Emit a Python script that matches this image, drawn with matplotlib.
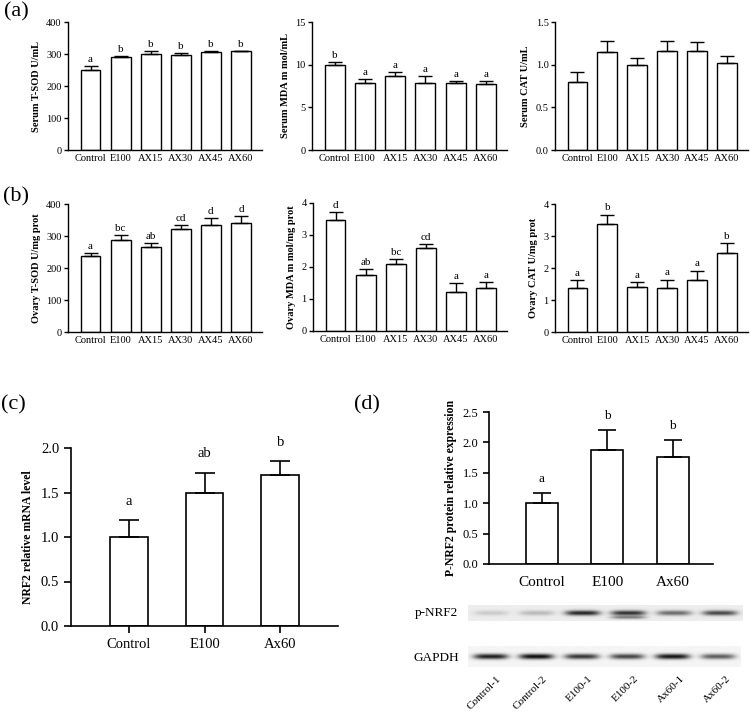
import numpy as np
import matplotlib
matplotlib.use("Agg")
import matplotlib.pyplot as plt

plt.rcParams['font.family'] = ['Liberation Serif', 'DejaVu Serif']

# groups
groups6 = ["Control", "E100", "AX15", "AX30", "AX45", "AX60"]
groups3 = ["Control", "E100", "Ax60"]

# (a) serum
serum_sod = [250, 292, 299, 298, 305, 308]
serum_sod_err = [11, 3, 11, 4, 4, 2]
serum_sod_let = ["a", "b", "b", "b", "b", "b"]

serum_mda = [10.0, 7.9, 8.7, 7.85, 7.8, 7.75]
serum_mda_err = [0.3, 0.4, 0.4, 0.8, 0.3, 0.35]
serum_mda_let = ["b", "a", "a", "a", "a", "a"]

serum_cat = [0.80, 1.15, 1.00, 1.16, 1.16, 1.02]
serum_cat_err = [0.11, 0.13, 0.08, 0.12, 0.10, 0.08]

# (b) ovary
ovary_sod = [236, 287, 267, 321, 335, 342]
ovary_sod_err = [12, 16, 10, 13, 20, 20]
ovary_sod_let = ["a", "bc", "ab", "cd", "d", "d"]

ovary_mda = [3.46, 1.76, 2.08, 2.60, 1.22, 1.33]
ovary_mda_err = [0.27, 0.18, 0.18, 0.12, 0.28, 0.20]
ovary_mda_let = ["d", "ab", "bc", "cd", "a", "a"]

ovary_cat = [1.36, 3.39, 1.40, 1.36, 1.64, 2.46]
ovary_cat_err = [0.25, 0.28, 0.17, 0.28, 0.28, 0.31]
ovary_cat_let = ["a", "b", "a", "a", "a", "b"]

# (c) mRNA
nrf2_mrna = [1.00, 1.49, 1.70]
nrf2_mrna_err = [0.19, 0.23, 0.15]
nrf2_mrna_let = ["a", "ab", "b"]

# (d) protein
pnrf2 = [1.00, 1.87, 1.76]
pnrf2_err = [0.17, 0.33, 0.28]
pnrf2_let = ["a", "b", "b"]

# blot band darkness per lane
lanes = ["Control-1", "Control-2", "E100-1", "E100-2", "Ax60-1", "Ax60-2"]
pnrf2_band = [0.15, 0.22, 0.85, 0.80, 0.55, 0.70]
pnrf2_band_low = [0.0, 0.0, 0.0, 0.45, 0.0, 0.0]
gapdh_band = [0.88, 0.95, 0.78, 0.72, 0.92, 0.62]

W, H = 750, 717
fig = plt.figure(figsize=(W / 100, H / 100), dpi=100)


def box(l, t, r, b):
    return fig.add_axes([l / W, 1 - b / H, (r - l) / W, (b - t) / H])


def bars(ax, vals, errs, width, cap, lw):
    x = np.arange(len(vals))
    ax.bar(x, vals, width=width, color="white", edgecolor="black", linewidth=lw,
           yerr=[np.zeros(len(vals)), errs], capsize=cap,
           error_kw=dict(elinewidth=lw, capthick=lw, ecolor="black"))
    return x


def letters(ax, x, vals, errs, labs, off, size):
    for xi, v, e, s in zip(x, vals, errs, labs):
        ax.annotate(s, (xi, v + e), xytext=(0, off), textcoords="offset points",
                    ha="center", va="bottom", fontsize=size)


def small_panel(rect, vals, errs, labs, ylabel, yticks, fmt):
    ax = box(*rect)
    x = bars(ax, vals, errs, 0.66, 5, 1.0)
    if labs:
        letters(ax, x, vals, errs, labs, 1.5, 8)
    ax.set_xlim(-0.75, 5.7)
    ax.set_ylim(yticks[0], yticks[-1])
    ax.set_yticks(yticks)
    ax.set_yticklabels([fmt.format(t) for t in yticks])
    ax.set_xticks(x)
    ax.set_xticklabels(groups6)
    ax.tick_params(axis="x", length=0, pad=3, labelsize=7.5)
    ax.tick_params(axis="y", length=3, width=1.0, pad=1.5, labelsize=7.5)
    for sp in ["top", "right"]:
        ax.spines[sp].set_visible(False)
    for sp in ["left", "bottom"]:
        ax.spines[sp].set_linewidth(1.0)
    ax.set_ylabel(ylabel, fontsize=7.5, fontweight="bold", labelpad=4)
    return ax


small_panel((68, 22, 262, 150), serum_sod, serum_sod_err, serum_sod_let,
            "Serum T-SOD U/mL", [0, 100, 200, 300, 400], "{:d}")
small_panel((312, 22, 507, 150), serum_mda, serum_mda_err, serum_mda_let,
            "Serum MDA m mol/mL", [0, 5, 10, 15], "{:d}")
small_panel((555, 22, 748, 150), serum_cat, serum_cat_err, None,
            "Serum CAT U/mL", [0.0, 0.5, 1.0, 1.5], "{:.1f}")
small_panel((68, 204, 262, 332), ovary_sod, ovary_sod_err, ovary_sod_let,
            "Ovary T-SOD U/mg prot", [0, 100, 200, 300, 400], "{:d}")
small_panel((313, 203, 507, 331), ovary_mda, ovary_mda_err, ovary_mda_let,
            "Ovary MDA m mol/mg prot", [0, 1, 2, 3, 4], "{:d}")
small_panel((555, 204, 748, 332), ovary_cat, ovary_cat_err, ovary_cat_let,
            "Ovary CAT U/mg prot", [0, 1, 2, 3, 4], "{:d}")

# (c)
axc = box(71, 448, 338, 626)
x = bars(axc, nrf2_mrna, nrf2_mrna_err, 0.5, 7, 1.2)
letters(axc, x, nrf2_mrna, nrf2_mrna_err, nrf2_mrna_let, 9, 10.5)
axc.set_xlim(-0.76, 2.76)
axc.set_ylim(0, 2.0)
axc.set_yticks([0, 0.5, 1.0, 1.5, 2.0])
axc.set_yticklabels(["0.0", "0.5", "1.0", "1.5", "2.0"])
axc.set_xticks(x)
axc.set_xticklabels(groups3)
axc.tick_params(axis="both", length=5, width=1.2, labelsize=10.5)
axc.tick_params(axis="x", pad=4)
for sp in ["top", "right"]:
    axc.spines[sp].set_visible(False)
for sp in ["left", "bottom"]:
    axc.spines[sp].set_linewidth(1.2)
axc.set_ylabel("NRF2 relative mRNA level", fontsize=8.5, fontweight="bold", labelpad=5)

# (d)
axd = box(489, 412, 713, 564)
x = bars(axd, pnrf2, pnrf2_err, 0.49, 6.5, 1.2)
letters(axd, x, pnrf2, pnrf2_err, pnrf2_let, 6, 9.5)
axd.set_xlim(-0.81, 2.62)
axd.set_ylim(0, 2.5)
axd.set_yticks([0, 0.5, 1.0, 1.5, 2.0, 2.5])
axd.set_yticklabels(["0.0", "0.5", "1.0", "1.5", "2.0", "2.5"])
axd.set_xticks(x)
axd.set_xticklabels(groups3)
axd.tick_params(axis="y", length=4, width=1.2, labelsize=9)
axd.tick_params(axis="x", length=0, pad=9, labelsize=11)
for sp in ["top", "right"]:
    axd.spines[sp].set_visible(False)
for sp in ["left", "bottom"]:
    axd.spines[sp].set_linewidth(1.2)
axd.set_ylabel("P-NRF2 protein relative expression", fontsize=8.5, fontweight="bold", labelpad=4)


# western blot strips
def strip(rect, bands, low, bg, thick):
    ax = box(*rect)
    n = len(bands)
    xs = np.linspace(0, n, 600)
    ys = np.linspace(0, 1, 60)
    X, Y = np.meshgrid(xs, ys)
    dark = np.zeros_like(X)
    for i, d in enumerate(bands):
        c = i + 0.5
        prof = np.exp(-((X - c) / 0.38) ** 4)
        dark += d * prof * np.exp(-((Y - 0.5) / thick) ** 2)
        if low is not None and low[i] > 0:
            dark += low[i] * prof * np.exp(-((Y - 0.78) / 0.1) ** 2)
    img = bg * (1 - np.clip(dark, 0, 1))
    ax.imshow(img, cmap="gray", vmin=0, vmax=1, aspect="auto",
              extent=[0, n, 1, 0], interpolation="bilinear")
    ax.set_axis_off()
    return ax


strip((468, 605, 743, 621), pnrf2_band, pnrf2_band_low, 0.93, 0.16)
strip((468, 646, 741, 667), gapdh_band, None, 0.96, 0.13)
fig.text(436 / W, 1 - 613 / H, "p-NRF2", ha="center", va="center", fontsize=9.5)
fig.text(436 / W, 1 - 658 / H, "GAPDH", ha="center", va="center", fontsize=9.5)

lane_w = 275 / 6
for i, name in enumerate(lanes):
    xc = 468 + lane_w * (i + 0.5) + 12
    fig.text(xc / W, 1 - 674 / H, name, rotation=45, ha="right", va="top", fontsize=8)

# panel letters
fig.text(4 / W, 1 - 12 / H, "(a)", va="center", ha="left", fontsize=16)
fig.text(3 / W, 1 - 197 / H, "(b)", va="center", ha="left", fontsize=16)
fig.text(1 / W, 1 - 405 / H, "(c)", va="center", ha="left", fontsize=16)
fig.text(354 / W, 1 - 405 / H, "(d)", va="center", ha="left", fontsize=16)

fig.savefig("out.png", dpi=100)
